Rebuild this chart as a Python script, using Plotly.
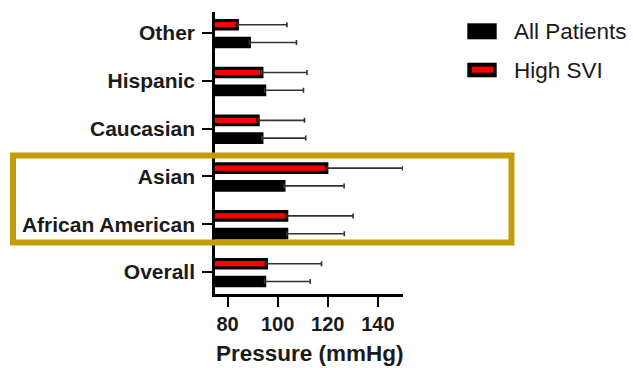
import plotly.graph_objects as go

categories = ["Overall", "African American", "Asian", "Caucasian", "Hispanic", "Other"]
all_mean = [94.8, 103.6, 102.5, 93.7, 94.8, 88.7]
all_err = [18.2, 23.0, 24.0, 17.5, 15.5, 18.8]
high_mean = [95.5, 103.6, 119.6, 92.2, 93.7, 83.9]
high_err = [22.0, 26.5, 30.3, 18.5, 18.0, 19.8]
x_ticks = [80, 100, 120, 140]

FONT = "Liberation Sans, Arial, sans-serif"
L, R, T, B = 215, 403, 12, 294
W, H = R - L, B - T

def px(x):
    return (x - L) / W

def py(y):
    return (B - y) / H

bw = 0.177
fig = go.Figure()
fig.add_trace(go.Bar(
    y=categories, x=high_mean, orientation="h", name="High SVI",
    width=bw, offset=0.085,
    marker=dict(color="#FF0000", line=dict(color="black", width=3.2)),
    error_x=dict(type="data", array=high_err, arrayminus=[0] * 6, symmetric=False,
                 color="#333333", thickness=1.6, width=2.5),
    showlegend=False,
))
fig.add_trace(go.Bar(
    y=categories, x=all_mean, orientation="h", name="All Patients",
    width=bw, offset=-0.11 - bw,
    marker=dict(color="black", line=dict(color="black", width=3.2)),
    error_x=dict(type="data", array=all_err, arrayminus=[0] * 6, symmetric=False,
                 color="#333333", thickness=1.6, width=2.5),
    showlegend=False,
))

gold = "#C39B0B"
shapes = [
    dict(type="rect", xref="paper", yref="paper", x0=px(13), x1=px(511.5),
         y0=py(242.5), y1=py(155.5), line=dict(color=gold, width=6), layer="above"),
    dict(type="rect", xref="paper", yref="paper", x0=px(467.3), x1=px(496.7),
         y0=py(39.3), y1=py(23.3), line=dict(width=0), fillcolor="black"),
    dict(type="rect", xref="paper", yref="paper", x0=px(467.3), x1=px(496.7),
         y0=py(77.3), y1=py(62.7), line=dict(width=0), fillcolor="black"),
    dict(type="rect", xref="paper", yref="paper", x0=px(471.7), x1=px(493.3),
         y0=py(72.7), y1=py(66.7), line=dict(width=0), fillcolor="#FF0000"),
]

annotations = [
    dict(text="All Patients", xref="paper", yref="paper", x=px(512), y=py(31),
         xanchor="left", yanchor="middle", showarrow=False,
         font=dict(family=FONT, size=22.5, color="#1a1a1a")),
    dict(text="High SVI", xref="paper", yref="paper", x=px(512), y=py(70),
         xanchor="left", yanchor="middle", showarrow=False,
         font=dict(family=FONT, size=22.5, color="#1a1a1a")),
    dict(text="<b>Pressure (mmHg)</b>", xref="paper", yref="paper", x=px(309.5), y=py(353),
         xanchor="center", yanchor="middle", showarrow=False,
         font=dict(family=FONT, size=22.5, color="#1a1a1a")),
]

fig.update_layout(
    width=633, height=368,
    margin=dict(l=L, r=633 - R, t=T, b=368 - B, pad=0),
    paper_bgcolor="white", plot_bgcolor="white",
    barmode="group",
    shapes=shapes, annotations=annotations,
    font=dict(family=FONT, color="#1a1a1a"),
    xaxis=dict(range=[75, 150], tickvals=x_ticks, ticks="outside", ticklen=10,
               tickwidth=2, tickcolor="black", showline=True, linecolor="black",
               linewidth=2.5, showgrid=False, zeroline=False,
               tickfont=dict(family=FONT, size=20, weight="bold", color="#1a1a1a")),
    yaxis=dict(type="category", categoryorder="array", categoryarray=categories,
               range=[-0.46, 5.44], ticks="outside", ticklen=10, tickwidth=2,
               tickcolor="black", showline=True, linecolor="black", linewidth=2.5,
               showgrid=False, zeroline=False, ticklabelstandoff=3,
               tickfont=dict(family=FONT, size=21, weight="bold", color="#1a1a1a")),
)

fig.write_html("out.html")
